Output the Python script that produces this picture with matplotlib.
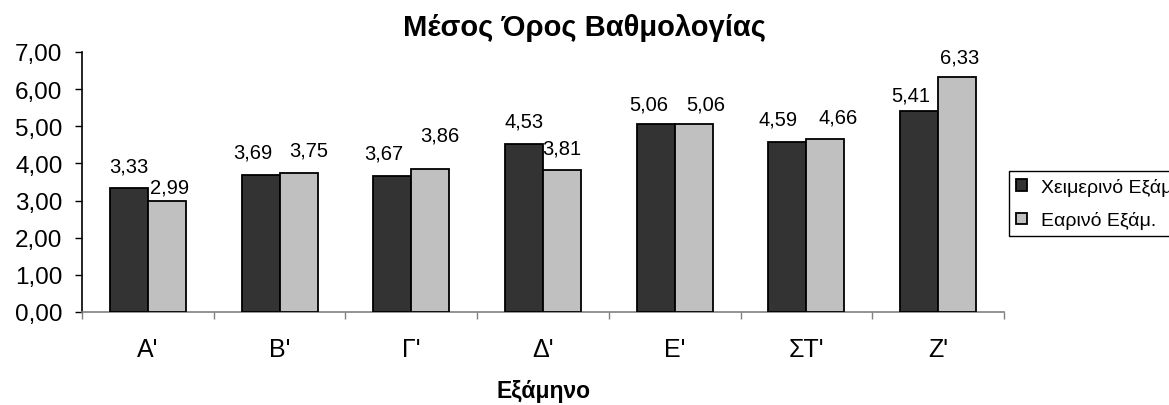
import numpy as np
import matplotlib.pyplot as plt
from matplotlib.ticker import FuncFormatter

plt.rcParams["font.family"] = ["Liberation Sans", "DejaVu Sans"]

semesters = ["A'", "B'", "Γ'", "Δ'", "E'", "ΣΤ'", "Z'"]
winter    = [3.33, 3.69, 3.67, 4.53, 5.06, 4.59, 5.41]
spring    = [2.99, 3.75, 3.86, 3.81, 5.06, 4.66, 6.33]
series_names = ["Χειμερινό Εξάμ", "Εαρινό Εξάμ."]
colors       = ["#333333", "#c0c0c0"]

# label nudges (pixels) as they sit in the original chart
label_dx = [[0, -8, -8, 0, -7, -9, -8], [3, 10, 10, 0, 12, 13, 2]]
label_dy = [[17, 17, 17, 17, 15, 17, 11], [8, 17, 28, 17, 15, 16, 14]]

W, H = 1169, 406
fig = plt.figure(figsize=(W / 100, H / 100), dpi=100)
ax = fig.add_axes([82 / W, 1 - 313 / H, (1004 - 82) / W, (313 - 53) / H])

x  = np.arange(len(semesters)) + 0.5
bw = 0.289
for i, (vals, col) in enumerate(zip([winter, spring], colors)):
    b = ax.bar(x + (i - 0.5) * bw, vals, width=bw, color=col,
               edgecolor="black", linewidth=1.3, label=series_names[i], zorder=3)
    for j, (rect, v) in enumerate(zip(b, vals)):
        ax.annotate(f"{v:.2f}".replace(".", ","),
                    (rect.get_x() + rect.get_width() / 2, v),
                    xytext=(label_dx[i][j], label_dy[i][j]),
                    textcoords="offset pixels",
                    ha="center", va="baseline", fontsize=14.5)

ax.set_xlim(0, len(semesters))
ax.set_ylim(0, 7)
ax.set_yticks(np.arange(0, 8, 1))
ax.yaxis.set_major_formatter(FuncFormatter(lambda v, p: f"{v:.2f}".replace(".", ",")))
ax.set_xticks(np.arange(0, len(semesters) + 1))
ax.set_xticklabels([])
ax.set_xticks(x, minor=True)
ax.set_xticklabels(semesters, minor=True)

ax.tick_params(axis="y", direction="out", length=5, width=1, color="black",
               labelsize=17.5, pad=9)
ax.tick_params(axis="x", which="major", direction="out", length=5, width=1,
               color="#808080")
ax.tick_params(axis="x", which="minor", length=0, labelsize=18, pad=18)

for s in ["top", "right"]:
    ax.spines[s].set_visible(False)
ax.spines["left"].set_color("black")
ax.spines["left"].set_linewidth(1.2)
ax.spines["bottom"].set_color("#808080")
ax.spines["bottom"].set_linewidth(1.2)

fig.text(584 / W, 1 - 36 / H, "Μέσος Όρος Βαθμολογίας", ha="center",
         va="baseline", fontsize=21, fontweight="bold")
fig.text(543 / W, 1 - 398 / H, "Εξάμηνο", ha="center", va="baseline",
         fontsize=16.5, fontweight="bold")

leg = fig.legend(loc="upper left", bbox_to_anchor=(1009 / W, 1 - 172 / H),
                 bbox_transform=fig.transFigure, borderaxespad=0, fontsize=14,
                 handlelength=0.55, handleheight=0.55, handletextpad=0.75,
                 labelspacing=0.8, borderpad=0.35, fancybox=False, framealpha=1)
leg.get_frame().set_edgecolor("black")
leg.get_frame().set_linewidth(1)

fig.savefig("out.png", dpi=100)
